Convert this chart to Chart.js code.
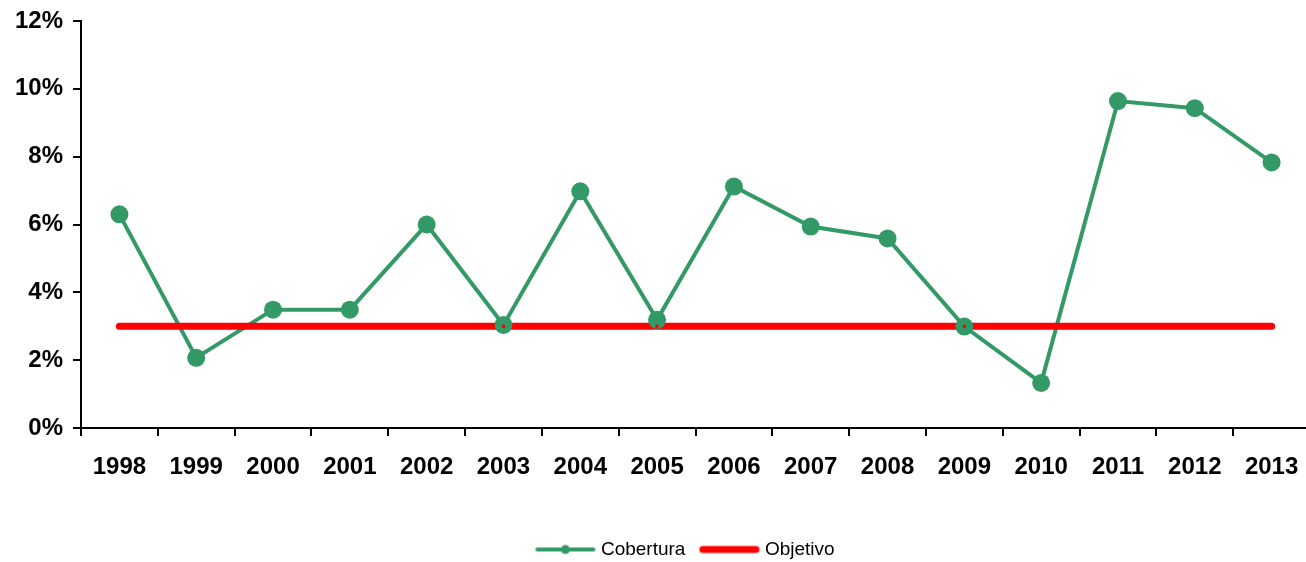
<!DOCTYPE html>
<html>
<head>
<meta charset="utf-8">
<script src="https://cdn.jsdelivr.net/npm/chart.js@4"></script>
<style>
html,body{margin:0;padding:0;background:#fff;}
#wrap{width:1306px;height:562px;position:relative;}
</style>
</head>
<body>
<div id="wrap"><canvas id="c"></canvas></div>
<script>
const years = ['1998','1999','2000','2001','2002','2003','2004','2005','2006','2007','2008','2009','2010','2011','2012','2013'];
const cobertura = [6.3, 2.07, 3.49, 3.49, 6.0, 3.04, 6.98, 3.19, 7.12, 5.94, 5.59, 2.99, 1.33, 9.64, 9.43, 7.83];
const objetivo = [3, 3, 3, 3, 3, 3, 3, 3, 3, 3, 3, 3, 3, 3, 3, 3];
const yTicks = [0, 2, 4, 6, 8, 10, 12];

const GREEN = '#339966';
const RED = '#ff0000';
const FONT = "'Liberation Sans', Arial, sans-serif";

function makeMarker(color, lw, dot) {
  const c = document.createElement('canvas');
  c.width = 62; c.height = 12;
  const ctx = c.getContext('2d');
  ctx.strokeStyle = color; ctx.lineWidth = lw; ctx.lineCap = 'round';
  ctx.beginPath(); ctx.moveTo(lw/2+1, 6); ctx.lineTo(62-lw/2-1, 6); ctx.stroke();
  if (dot) { ctx.fillStyle = color; ctx.beginPath(); ctx.arc(31, 6, 4.5, 0, Math.PI*2); ctx.fill(); }
  return c;
}
const mk1 = makeMarker(GREEN, 4, true);
const mk2 = makeMarker(RED, 7, false);

const layoutTweak = {
  id: 'layoutTweak',
  afterLayout(chart) {
    const l = chart.legend;
    if (l) { l.left += 34; l.right += 34; }
    const x = chart.scales.x;
    x.right += 4; x.width += 4; x.configure();
    chart.chartArea.right += 4; chart.chartArea.width += 4;
  }
};

new Chart(document.getElementById('c'), {
  type: 'line',
  data: {
    labels: years,
    datasets: [
      { label: 'Cobertura', data: cobertura, borderColor: GREEN, backgroundColor: GREEN,
        borderWidth: 4, pointRadius: 0, pointHoverRadius: 0, tension: 0, order: 3, clip: false },
      { label: 'Objetivo', data: objetivo, borderColor: RED, backgroundColor: RED,
        borderWidth: 7, pointRadius: 0, pointHoverRadius: 0, borderCapStyle: 'round',
        tension: 0, order: 2, clip: false },
      { label: 'Cobertura-markers', data: cobertura, showLine: false, borderColor: GREEN, backgroundColor: GREEN,
        pointRadius: 9, pointHoverRadius: 9, pointBackgroundColor: GREEN, pointBorderWidth: 0,
        order: 1, clip: false },
      { label: 'Objetivo-markers', data: objetivo, showLine: false, borderColor: RED, backgroundColor: RED,
        pointStyle: 'rect', pointRadius: 2.2, pointHoverRadius: 2.2, pointBackgroundColor: RED, pointBorderWidth: 0,
        order: 0, clip: false }
    ]
  },
  plugins: [layoutTweak],
  options: {
    responsive: true,
    maintainAspectRatio: false,
    animation: false,
    devicePixelRatio: 1,
    layout: { autoPadding: false, padding: { top: 21, left: 0, right: 0, bottom: -7 } },
    plugins: {
      tooltip: { enabled: false },
      legend: {
        position: 'bottom',
        labels: {
          usePointStyle: true,
          pointStyleWidth: 52,
          padding: 18,
          color: '#000',
          font: { family: FONT, size: 19 },
          generateLabels: (chart) => [0, 1].map((i) => {
            const d = chart.data.datasets[i];
            return { text: d.label, pointStyle: i === 0 ? mk1 : mk2, datasetIndex: i,
              fillStyle: d.borderColor, strokeStyle: d.borderColor, lineWidth: 0, hidden: false,
              fontColor: '#000' };
          })
        }
      }
    },
    scales: {
      x: {
        offset: true,
        grid: { offset: true, drawOnChartArea: false, drawTicks: true, tickLength: 8, color: '#000', lineWidth: 2 },
        border: { color: '#000', width: 2 },
        ticks: { color: '#000', font: { family: FONT, size: 24, weight: 'bold' }, padding: 17, maxRotation: 0, autoSkip: false },
        afterFit: (s) => { s.height = 94; s.paddingLeft = 0; s.paddingRight = 0; }
      },
      y: {
        min: 0, max: 12,
        afterBuildTicks: (s) => { s.ticks = yTicks.map(v => ({ value: v })); },
        grid: { drawOnChartArea: false, drawTicks: true, tickLength: 8, color: '#000', lineWidth: 2 },
        border: { color: '#000', width: 2 },
        ticks: { color: '#000', font: { family: FONT, size: 24, weight: 'bold' }, padding: 10,
          callback: (v) => v + '%' },
        afterFit: (s) => { s.width = 81; s.paddingTop = 0; s.paddingBottom = 0; }
      }
    }
  }
});
</script>
</body>
</html>
